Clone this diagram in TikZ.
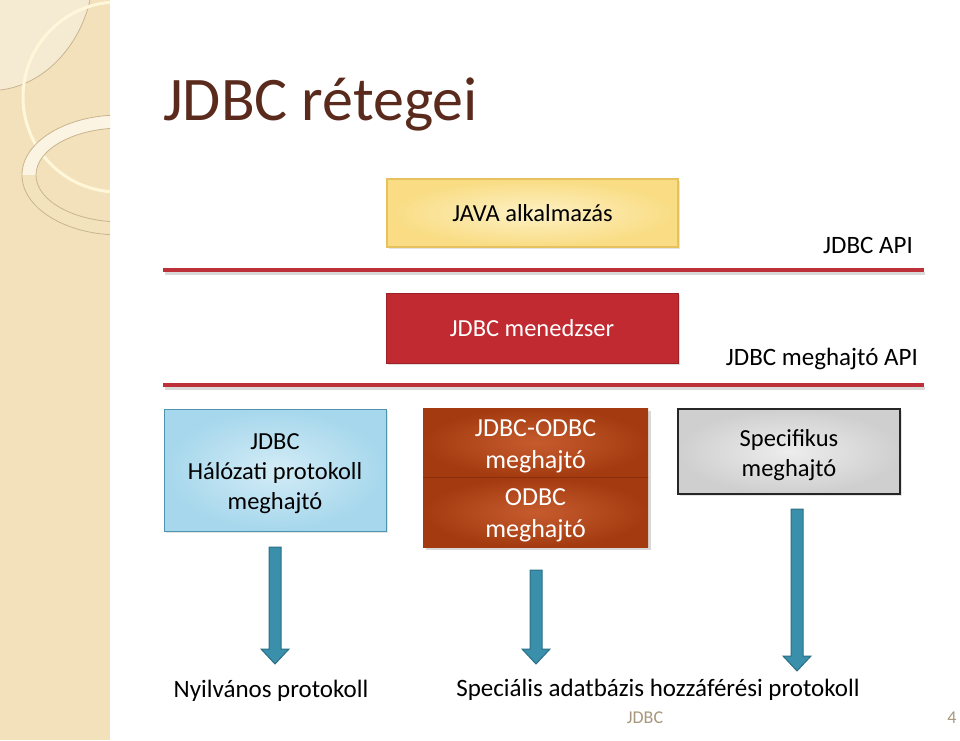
\documentclass[tikz,border=0pt]{standalone}
\usepackage{fontspec}
\setmainfont{Carlito}
\usetikzlibrary{shadows,calc}
\definecolor{strip}{HTML}{F2E1BA}
\definecolor{stripl}{HTML}{F5EBD3}
\definecolor{stripline}{HTML}{C9B48E}
\definecolor{titlec}{HTML}{5A2A1C}
\definecolor{redline}{HTML}{BE3038}
\definecolor{mgr}{HTML}{C12A30}
\definecolor{yelin}{HTML}{FDF1C4}
\definecolor{yelout}{HTML}{F9DC83}
\definecolor{yelbd}{HTML}{E6C25E}
\definecolor{bluein}{HTML}{D3ECF6}
\definecolor{blueout}{HTML}{A6D7EC}
\definecolor{bluebd}{HTML}{4E94AE}
\definecolor{brin}{HTML}{C65C2E}
\definecolor{brout}{HTML}{A43B10}
\definecolor{brline}{HTML}{8A2E0C}
\definecolor{grin}{HTML}{EDEDED}
\definecolor{grout}{HTML}{CFCFCF}
\definecolor{teal}{HTML}{3A90AA}
\definecolor{tealbd}{HTML}{2C6F86}
\definecolor{footc}{HTML}{A8977C}
\definecolor{ringin}{HTML}{FBF4E2}
\definecolor{ringout}{HTML}{F0DCAE}
\definecolor{creamline}{HTML}{FFF7DA}
\tikzset{
  boxbase/.style={rectangle,inner sep=0pt,align=center,font=\fontsize{24.5}{30}\selectfont},
  boxtext/.style={inner sep=0pt,align=center,font=\fontsize{24.5}{30}\selectfont},
  javabox/.style={boxbase,inner color=yelin,outer color=yelout,draw=yelbd,line width=1.2pt,
     drop shadow={opacity=0.2,shadow xshift=1.5pt,shadow yshift=-2pt}},
  mgrbox/.style={boxbase,fill=mgr,draw=mgr!80!black,line width=0.8pt,text=white,
     drop shadow={opacity=0.25,shadow xshift=1.5pt,shadow yshift=-2pt}},
  bluebox/.style={boxbase,inner color=bluein,outer color=blueout,draw=bluebd,line width=1pt,
     drop shadow={opacity=0.2,shadow xshift=1.5pt,shadow yshift=-2pt}},
  brownbox/.style={boxbase,inner color=brin,outer color=brout},
  browntext/.style={boxtext,text=white,font=\fontsize{26}{32}\selectfont},
  greybox/.style={boxbase,inner color=grin,outer color=grout,draw=black!85,line width=1.2pt,
     drop shadow={opacity=0.2,shadow xshift=1.5pt,shadow yshift=-2pt}},
  layerline/.style={draw=redline,line width=4pt},
  layershadow/.style={draw=black!15,line width=3pt},
  apitext/.style={font=\fontsize{25}{28}\selectfont,anchor=east,inner sep=0pt},
  bottomtext/.style={font=\fontsize{25}{30}\selectfont,inner sep=0pt},
  blockarrow/.style={fill=teal,draw=tealbd,line width=1pt,line join=miter}
}
\newcommand\blockarr[2]{%
  \path[blockarrow] let \p1=(#1), \p2=(#2) in
    ({\x1-6pt},\y1) -- ({\x1+6pt},\y1) -- ({\x1+6pt},{\y2+15pt}) -- ({\x1+14pt},{\y2+15pt})
    -- (\x1,\y2) -- ({\x1-14pt},{\y2+15pt}) -- ({\x1-6pt},{\y2+15pt}) -- cycle;}
\begin{document}
\begin{tikzpicture}[x=1pt,y=-1pt]
\useasboundingbox[fill=white] (0,0) rectangle (960,740);
% left decorative strip
\fill[strip] (0,0) rectangle (110,740);
\fill[stripl] (0,0) -- (90,0) .. controls (80,45) and (45,85) .. (0,90) -- cycle;
\draw[stripline,line width=0.8pt] (90,0) .. controls (80,45) and (45,85) .. (0,90);
\begin{scope}
\clip (0,0) rectangle (110,740);
\draw[creamline,line width=3pt] (118,97) circle [radius=95];
\fill[even odd rule,ringin] (120,175) ellipse [x radius=98,y radius=60] (122,175) ellipse [x radius=86,y radius=47];
\begin{scope}
\clip (0,175) rectangle (110,240);
\fill[even odd rule,ringout,opacity=0.7] (120,175) ellipse [x radius=98,y radius=60] (122,175) ellipse [x radius=86,y radius=47];
\end{scope}
\draw[stripline,line width=0.8pt] (120,175) ellipse [x radius=98,y radius=60];
\draw[stripline,line width=0.8pt] (122,175) ellipse [x radius=86,y radius=47];
\end{scope}
% title
\node[anchor=base west,inner sep=0pt,text=titlec,font=\fontsize{62}{70}\selectfont] (title) at (163,120) {JDBC rétegei};
% layer boxes
\node[javabox,minimum width=291,minimum height=68] (java) at (532.5,213) {JAVA alkalmazás};
\node[apitext] (api) at (913,245) {JDBC API};
\draw[layershadow] (165,273) -- (925,273);
\draw[layerline] (163,270) -- (924,270);
\node[mgrbox,minimum width=292,minimum height=70] (mgr) at (532,328) {JDBC menedzser};
\node[apitext] (dapi) at (918,359) {JDBC meghajtó API};
\draw[layershadow] (165,388) -- (925,388);
\draw[layerline] (163,385) -- (924,385);
\node[bluebox,minimum width=222,minimum height=122] (net) at (275,470) {};
\node[boxtext] (nett) at ([yshift=-4pt]net.center) {JDBC\\Hálózati protokoll\\meghajtó};
% brown composite box
\fill[black,opacity=0.15] (426,411) rectangle (651,550);
\node[brownbox,minimum width=225,minimum height=69.5] (jo) at (535.5,442.75) {};
\node[brownbox,minimum width=225,minimum height=69.5] (od) at (535.5,512.25) {};
\draw[brline,line width=1pt] (jo.south west) -- (jo.south east);
\node[browntext] (jot) at ([yshift=-4pt]jo.center) {JDBC-ODBC\\meghajtó};
\node[browntext] (odt) at ([yshift=-3pt]od.center) {ODBC\\meghajtó};
\node[greybox,minimum width=222,minimum height=85] (spec) at (789,451.5) {};
\node[boxtext] (spect) at ([yshift=-4pt]spec.center) {Specifikus\\meghajtó};
% arrows
\coordinate (a1s) at (275,547);
\coordinate (a1e) at (275,664);
\coordinate (a2s) at (536,570);
\coordinate (a2e) at (536,664);
\coordinate (a3s) at (797,509);
\coordinate (a3e) at (797,671);
\blockarr{a1s}{a1e}
\blockarr{a2s}{a2e}
\blockarr{a3s}{a3e}
% bottom labels
\node[bottomtext] (pub) at (271,691) {Nyilvános protokoll};
\node[bottomtext] (spc) at (658,690) {Speciális adatbázis hozzáférési protokoll};
% footer
\node[inner sep=0pt,text=footc,font=\fontsize{18}{20}\selectfont] (foot) at (645,718) {JDBC};
\node[inner sep=0pt,text=footc,font=\fontsize{18}{20}\selectfont] (pg) at (952,718) {4};
\end{tikzpicture}
\end{document}
